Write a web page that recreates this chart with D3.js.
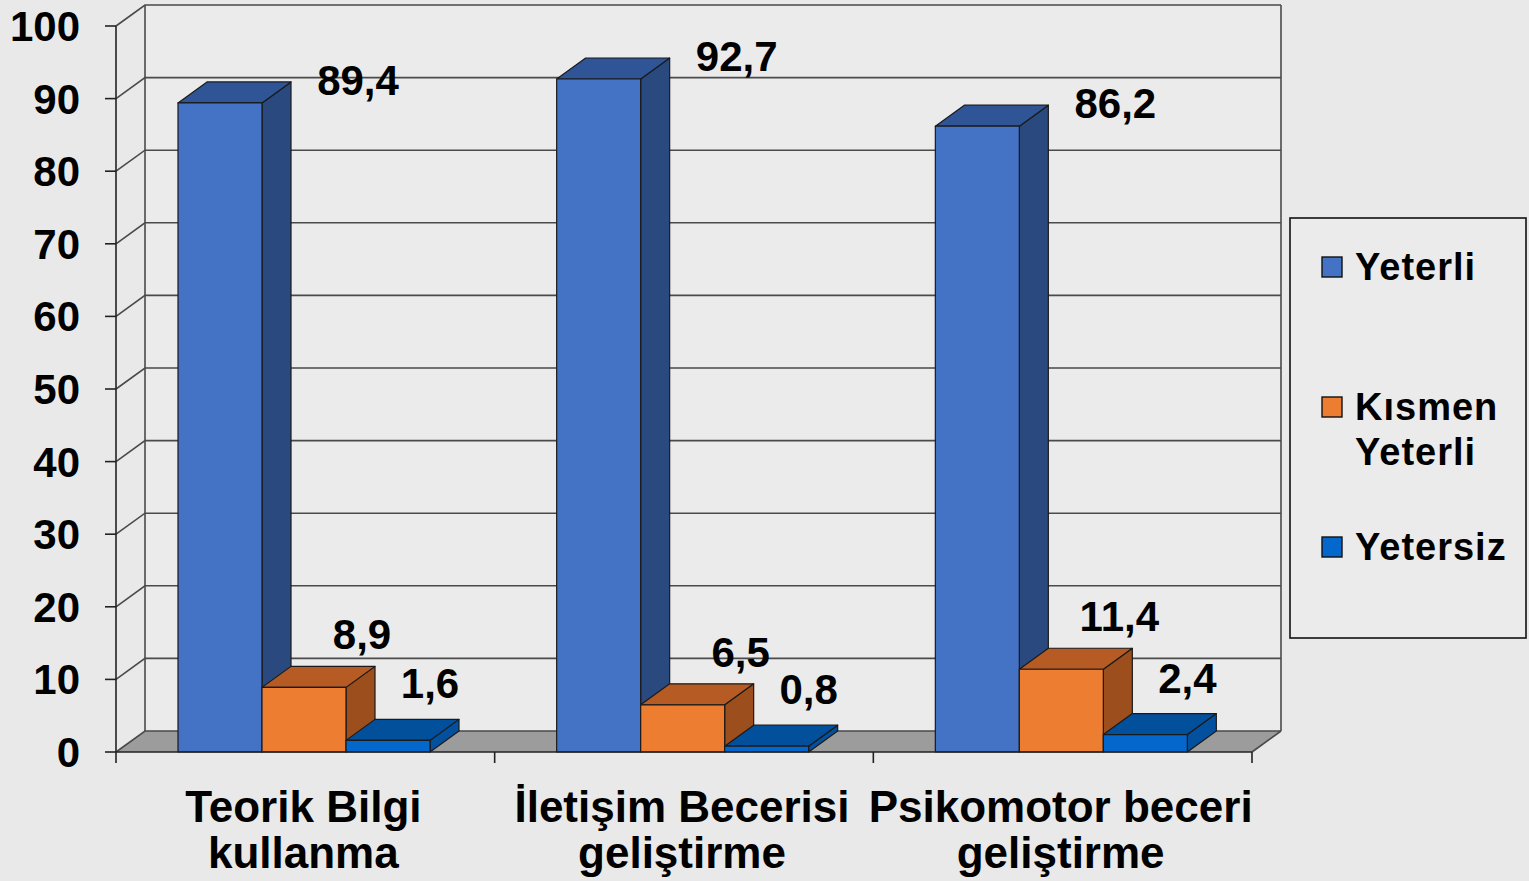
<!DOCTYPE html>
<html>
<head>
<meta charset="utf-8">
<script src="https://cdn.jsdelivr.net/npm/d3@7"></script>
<style>
  html, body { margin: 0; padding: 0; background: #e9e9e9; }
  svg { display: block; font-family: "Liberation Sans", Arial, sans-serif; font-weight: bold; }
</style>
</head>
<body>
<svg id="chart" width="1529" height="881"></svg>
<script>
// categories (two-line labels)
const categories = ["Teorik Bilgi kullanma", "İletişim Becerisi geliştirme", "Psikomotor beceri geliştirme"];
const categoryLines = [["Teorik Bilgi", "kullanma"], ["İletişim Becerisi", "geliştirme"], ["Psikomotor beceri", "geliştirme"]];
const seriesNames = ["Yeterli", "Kısmen Yeterli", "Yetersiz"];
const yeterli = [89.4, 92.7, 86.2];
const kismenYeterli = [8.9, 6.5, 11.4];
const yetersiz = [1.6, 0.8, 2.4];
const yTicks = [0, 10, 20, 30, 40, 50, 60, 70, 80, 90, 100];

const seriesValues = [yeterli, kismenYeterli, yetersiz];

// renk: ön yüz, üst yüz, yan yüz
const colors = [
  { front: "#4472c4", top: "#2f5597", side: "#2a4a7f" },
  { front: "#ed7d31", top: "#b65b23", side: "#9c4f1d" },
  { front: "#0467cc", top: "#024f9c", side: "#03519e" },
];
// etiket kaydırma (seri başına)
const labelNudge = [{ dx: 138, dy: -8 }, { dx: 58, dy: -38 }, { dx: 42, dy: -42 }];

const svg = d3.select("#chart");
const W = 1529, H = 881;
const DX = 29, DY = -21; // 3B derinlik

const x0 = d3.scaleBand().domain(categories).range([116, 1252]).padding(0);
const x1 = d3.scaleBand().domain(seriesNames).range([62, 314]).padding(0);
const y = d3.scaleLinear().domain([0, 100]).range([752, 26]);

svg.append("rect").attr("width", W).attr("height", H).attr("fill", "#e9e9e9");

const xL = x0.range()[0], xR = x0.range()[1];
const y0 = y(0), yTop = y(100);

// arka duvar
svg.append("rect")
  .attr("x", xL + DX).attr("y", yTop + DY)
  .attr("width", xR - xL).attr("height", y0 - yTop)
  .attr("fill", "#ebebeb").attr("stroke", "none");

// zemin
svg.append("path")
  .attr("d", `M${xL},${y0}L${xR},${y0}L${xR + DX},${y0 + DY}L${xL + DX},${y0 + DY}Z`)
  .attr("fill", "#9c9c9c");

// kılavuz çizgileri (sol duvar + arka duvar)
const grid = svg.append("g").attr("stroke", "#4a4a4a").attr("stroke-width", 1.6).attr("fill", "none");
yTicks.forEach((t) => {
  const yy = y(t);
  grid.append("path").attr("d", `M${xL},${yy}L${xL + DX},${yy + DY}L${xR + DX},${yy + DY}`);
});
grid.append("line").attr("x1", xL + DX).attr("x2", xL + DX).attr("y1", yTop + DY).attr("y2", y0 + DY);
grid.append("line").attr("x1", xR + DX).attr("x2", xR + DX).attr("y1", yTop + DY).attr("y2", y0 + DY);
grid.append("line").attr("x1", xR).attr("x2", xR + DX).attr("y1", y0).attr("y2", y0 + DY);

// y ekseni
const yAxis = svg.append("g").attr("stroke", "#222").attr("stroke-width", 1.6);
yAxis.append("line").attr("x1", xL).attr("x2", xL).attr("y1", yTop).attr("y2", y0);
yTicks.forEach((t) => {
  yAxis.append("line").attr("x1", xL - 11).attr("x2", xL).attr("y1", y(t)).attr("y2", y(t));
});
svg.append("g").selectAll("text").data(yTicks).join("text")
  .attr("x", 80).attr("y", (d) => y(d) + 15)
  .attr("text-anchor", "end").style("font-size", "42px").attr("fill", "#000")
  .text((d) => d);

// çubuklar
const bars = [];
categories.forEach((c, ci) => {
  seriesNames.forEach((s, si) => {
    bars.push({ c, ci, s, si, v: seriesValues[si][ci] });
  });
});

const barG = svg.append("g").attr("stroke", "#1a1a1a").attr("stroke-width", 1.2).attr("stroke-linejoin", "round");
bars.forEach((b) => {
  const xa = x0(b.c) + x1(b.s);
  const xb = xa + x1.bandwidth();
  const yt = y(b.v);
  const col = colors[b.si];
  // yan yüz
  barG.append("path")
    .attr("d", `M${xb},${y0}L${xb + DX},${y0 + DY}L${xb + DX},${yt + DY}L${xb},${yt}Z`)
    .attr("fill", col.side);
  // üst yüz
  barG.append("path")
    .attr("d", `M${xa},${yt}L${xa + DX},${yt + DY}L${xb + DX},${yt + DY}L${xb},${yt}Z`)
    .attr("fill", col.top);
  // ön yüz
  barG.append("rect")
    .attr("x", xa).attr("y", yt).attr("width", xb - xa).attr("height", y0 - yt)
    .attr("fill", col.front);
});

// x ekseni
const xAxis = svg.append("g").attr("stroke", "#222").attr("stroke-width", 1.6);
xAxis.append("line").attr("x1", xL).attr("x2", xR).attr("y1", y0).attr("y2", y0);
[...categories.map((c) => x0(c)), xR].forEach((xx) => {
  xAxis.append("line").attr("x1", xx).attr("x2", xx).attr("y1", y0).attr("y2", y0 + 11);
});

// kategori etiketleri
categories.forEach((c, ci) => {
  const cx = x0(c) + x0.bandwidth() / 2 - 2;
  const t = svg.append("text")
    .attr("x", cx).attr("y", 822)
    .attr("text-anchor", "middle").style("font-size", "44px").attr("fill", "#000");
  categoryLines[ci].forEach((line, li) => {
    t.append("tspan").attr("x", cx).attr("dy", li === 0 ? 0 : 46).text(line);
  });
});

// değer etiketleri
bars.forEach((b) => {
  const cx = x0(b.c) + x1(b.s) + x1.bandwidth() / 2;
  svg.append("text")
    .attr("x", cx + labelNudge[b.si].dx)
    .attr("y", y(b.v) + labelNudge[b.si].dy)
    .attr("text-anchor", "middle").style("font-size", "42px").attr("fill", "#000")
    .text(String(b.v.toFixed(1)).replace(".", ","));
});

// lejant
const lg = svg.append("g");
lg.append("rect").attr("x", 1290).attr("y", 218).attr("width", 236).attr("height", 420)
  .attr("fill", "#ebebeb").attr("stroke", "#111").attr("stroke-width", 1.6);
const legendLines = [["Yeterli"], ["Kısmen", "Yeterli"], ["Yetersiz"]];
seriesNames.forEach((s, i) => {
  const ly = 257 + i * 140;
  lg.append("rect").attr("x", 1322).attr("y", ly).attr("width", 20).attr("height", 20)
    .attr("fill", colors[i].front).attr("stroke", "#111").attr("stroke-width", 1.4);
  const t = lg.append("text").attr("x", 1355).attr("y", ly + 23)
    .style("font-size", "38px").style("letter-spacing", "1px").attr("fill", "#000");
  legendLines[i].forEach((line, li) => {
    t.append("tspan").attr("x", 1355).attr("dy", li === 0 ? 0 : 45).text(line);
  });
});
</script>
</body>
</html>
